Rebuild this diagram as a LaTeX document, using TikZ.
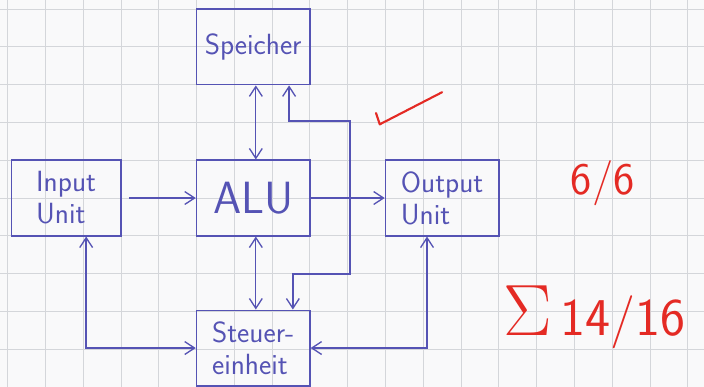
\documentclass[tikz,border=0pt]{standalone}
\usepackage{tikz}
\usepackage{graphicx}
\usepackage{xcolor}
\usetikzlibrary{arrows.meta,positioning,calc}
\definecolor{paper}{HTML}{F9F9FA}
\definecolor{gridgray}{HTML}{D4D6DA}
\definecolor{ink}{HTML}{5553B4}
\definecolor{marker}{HTML}{E42A24}
\tikzset{
  unitbox/.style={draw=ink,line width=1.1pt,minimum width=3cm,minimum height=2cm,
                  inner sep=2pt,text=ink,font=\sffamily\fontsize{22}{24}\selectfont},
  arr/.style={-{Straight Barb[length=2.6mm,width=3.4mm]},line width=1pt,draw=ink},
  biarr/.style={{Straight Barb[length=2.6mm,width=3.4mm]}-{Straight Barb[length=2.6mm,width=3.4mm]},
                line width=1pt,draw=ink},
  grading/.style={text=marker,font=\sffamily},
  gridline/.style={draw=gridgray,line width=0.6pt}
}

\begin{document}
\begin{tikzpicture}[x=1cm,y=1cm]
    \path[use as bounding box,fill=paper] (-0.2,0) rectangle (18.43,10.24);
    \draw[gridline,step=1cm] (-0.2,0) grid (18.43,10.24);

    \node[unitbox] (speicher) at (6.5,9) {Speicher};
    \node[unitbox,minimum width=2.9cm,align=left] (input) at (1.55,5) {Input\\Unit};
    \node[unitbox,font=\sffamily\fontsize{34}{38}\selectfont] (alu) at (6.5,5) {ALU};
    \node[unitbox,align=left] (output) at (11.5,5) {Output\\Unit};
    \node[unitbox,align=left] (steuer) at (6.5,1.03) {Steuer-\\einheit};

    % data paths
    \draw[arr] ([xshift=0.19cm]input.east) -- (alu.west);
    \draw[arr] (alu.east) -- (output.west);
    \draw[biarr] ([xshift=0.07cm]speicher.south) -- ([xshift=0.07cm]alu.north);
    \draw[biarr] ([xshift=0.07cm]alu.south) -- ([xshift=0.07cm]steuer.north);

    % bus from the ALU output
    \coordinate (bus) at (9.06,5);
    \coordinate (bustop) at (9.06,7.04);
    \coordinate (busbot) at (9.06,2.99);
    \draw[arr] (bus) -- (bustop) -| ([xshift=0.95cm]speicher.south);
    \draw[arr] (bus) -- (busbot) -| ([xshift=1.05cm]steuer.north);

    % control lines
    \draw[biarr] ([xshift=0.53cm]input.south) |- (steuer.west);
    \draw[biarr] ([xshift=-0.4cm]output.south) |- (steuer.east);

    % red marks
    \draw[marker,line width=1.6pt,line cap=round,line join=round]
      (9.75,7.25) -- (9.85,6.95) -- (11.5,7.8);
    \node[grading,font=\sffamily\fontsize{34}{38}\selectfont] (score) at (15.75,5.4) {6/6};
    \node[grading,anchor=west,font=\sffamily\fontsize{40}{44}\selectfont] (total) at (13.0,1.85)
      {\scalebox{2.2}{$\Sigma$}\,14/16};
  \end{tikzpicture}
\end{document}
